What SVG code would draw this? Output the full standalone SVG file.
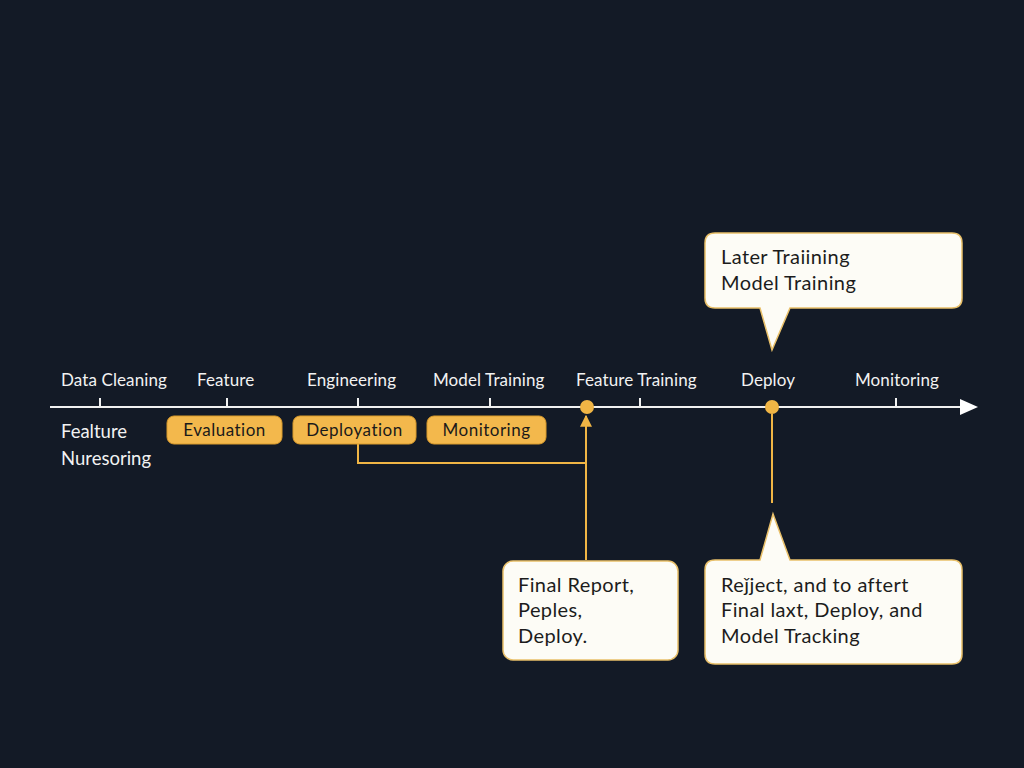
<svg xmlns="http://www.w3.org/2000/svg" width="1024" height="768" viewBox="0 0 1024 768">
<defs>
<style>
text{font-variant-ligatures:none}
.lbl{font-family:Lato,"Open Sans","Liberation Sans",sans-serif;font-size:17px;fill:#f2f2f2;letter-spacing:0.1px}
.side{font-family:Lato,"Open Sans","Liberation Sans",sans-serif;font-size:18.5px;fill:#f2f2f2}
.pill{fill:#f3b84c;stroke:#d99a2b;stroke-width:1}
.ptxt{font-family:Lato,"Open Sans","Liberation Sans",sans-serif;font-size:17px;letter-spacing:0.5px;fill:#1a1a1a;text-anchor:middle}
.call{fill:#fdfcf6;stroke:#e9c06a;stroke-width:1.5}
.ctxt{font-family:Lato,"Open Sans","Liberation Sans",sans-serif;font-size:20px;letter-spacing:0.4px;fill:#1c1c1c}
.tick{stroke:#f0f0f0;stroke-width:2}
.amb{stroke:#f0b545;stroke-width:2;fill:none}
</style>
<marker id="arrA" viewBox="0 0 10 10" markerWidth="12" markerHeight="12" refX="9" refY="5" orient="auto" markerUnits="userSpaceOnUse"><path d="M0,0 L10,5 L0,10 Z" fill="#f0b545"/></marker>
</defs>
<rect width="1024" height="768" fill="#131a26"/>

<g id="axis">
<line x1="50" y1="407" x2="962" y2="407" stroke="#f0f0f0" stroke-width="2"/>
<path d="M960,399 L978,407 L960,415 Z" fill="#ffffff"/>
<line class="tick" x1="100" y1="398" x2="100" y2="407"/>
<line class="tick" x1="227" y1="398" x2="227" y2="407"/>
<line class="tick" x1="358" y1="398" x2="358" y2="407"/>
<line class="tick" x1="490" y1="398" x2="490" y2="407"/>
<line class="tick" x1="640" y1="398" x2="640" y2="407"/>
<line class="tick" x1="896" y1="398" x2="896" y2="407"/>
</g>

<g id="labels">
<text class="lbl" x="61" y="386">Data Cleaning</text>
<text class="lbl" x="197" y="386">Feature</text>
<text class="lbl" x="307" y="386">Engineering</text>
<text class="lbl" x="433" y="386">Model Training</text>
<text class="lbl" x="576" y="386">Feature Training</text>
<text class="lbl" x="741" y="386">Deploy</text>
<text class="lbl" x="855" y="386">Monitoring</text>
<text class="side" x="61" y="438">Fealture</text>
<text class="side" x="61" y="465">Nuresoring</text>
</g>

<g id="connectors">
<polyline class="amb" points="358,444 358,463 586,463"/>
<line class="amb" x1="586" y1="560" x2="586" y2="416" marker-end="url(#arrA)"/>
<line class="amb" x1="772" y1="414" x2="772" y2="503"/>
</g>

<g id="dot1"><circle cx="587" cy="407" r="7" fill="#f0b545"/></g>
<g id="dot2"><circle cx="772" cy="407" r="7" fill="#f0b545"/></g>

<g id="evaluation"><rect class="pill" x="167" y="416" width="115" height="28" rx="7"/><text class="ptxt" x="224.5" y="436">Evaluation</text></g>
<g id="deployation"><rect class="pill" x="293" y="416" width="123" height="28" rx="7"/><text class="ptxt" x="354.5" y="436">Deployation</text></g>
<g id="monitoring"><rect class="pill" x="427" y="416" width="119" height="28" rx="7"/><text class="ptxt" x="486.5" y="436">Monitoring</text></g>

<g id="callout-top">
<path class="call" d="M715,233 H952 Q962,233 962,243 V298 Q962,308 952,308 H790 L772,350 L760,308 H715 Q705,308 705,298 V243 Q705,233 715,233 Z"/>
<text class="ctxt" x="721" y="264">Later Traiining</text>
<text class="ctxt" x="721" y="290">Model Training</text>
</g>

<g id="callout-final">
<rect class="call" x="503" y="561" width="175" height="99" rx="10"/>
<text class="ctxt" x="518" y="592">Final Report,</text>
<text class="ctxt" x="518" y="617">Peples,</text>
<text class="ctxt" x="518" y="643">Deploy.</text>
</g>

<g id="callout-bottom">
<path class="call" d="M715,560 H760 L773,514 L790,560 H952 Q962,560 962,570 V654 Q962,664 952,664 H715 Q705,664 705,654 V570 Q705,560 715,560 Z"/>
<text class="ctxt" x="721" y="592">Reǰject, and to aftert</text>
<text class="ctxt" x="721" y="617">Final laxt, Deploy, and</text>
<text class="ctxt" x="721" y="643">Model Tracking</text>
</g>
</svg>
